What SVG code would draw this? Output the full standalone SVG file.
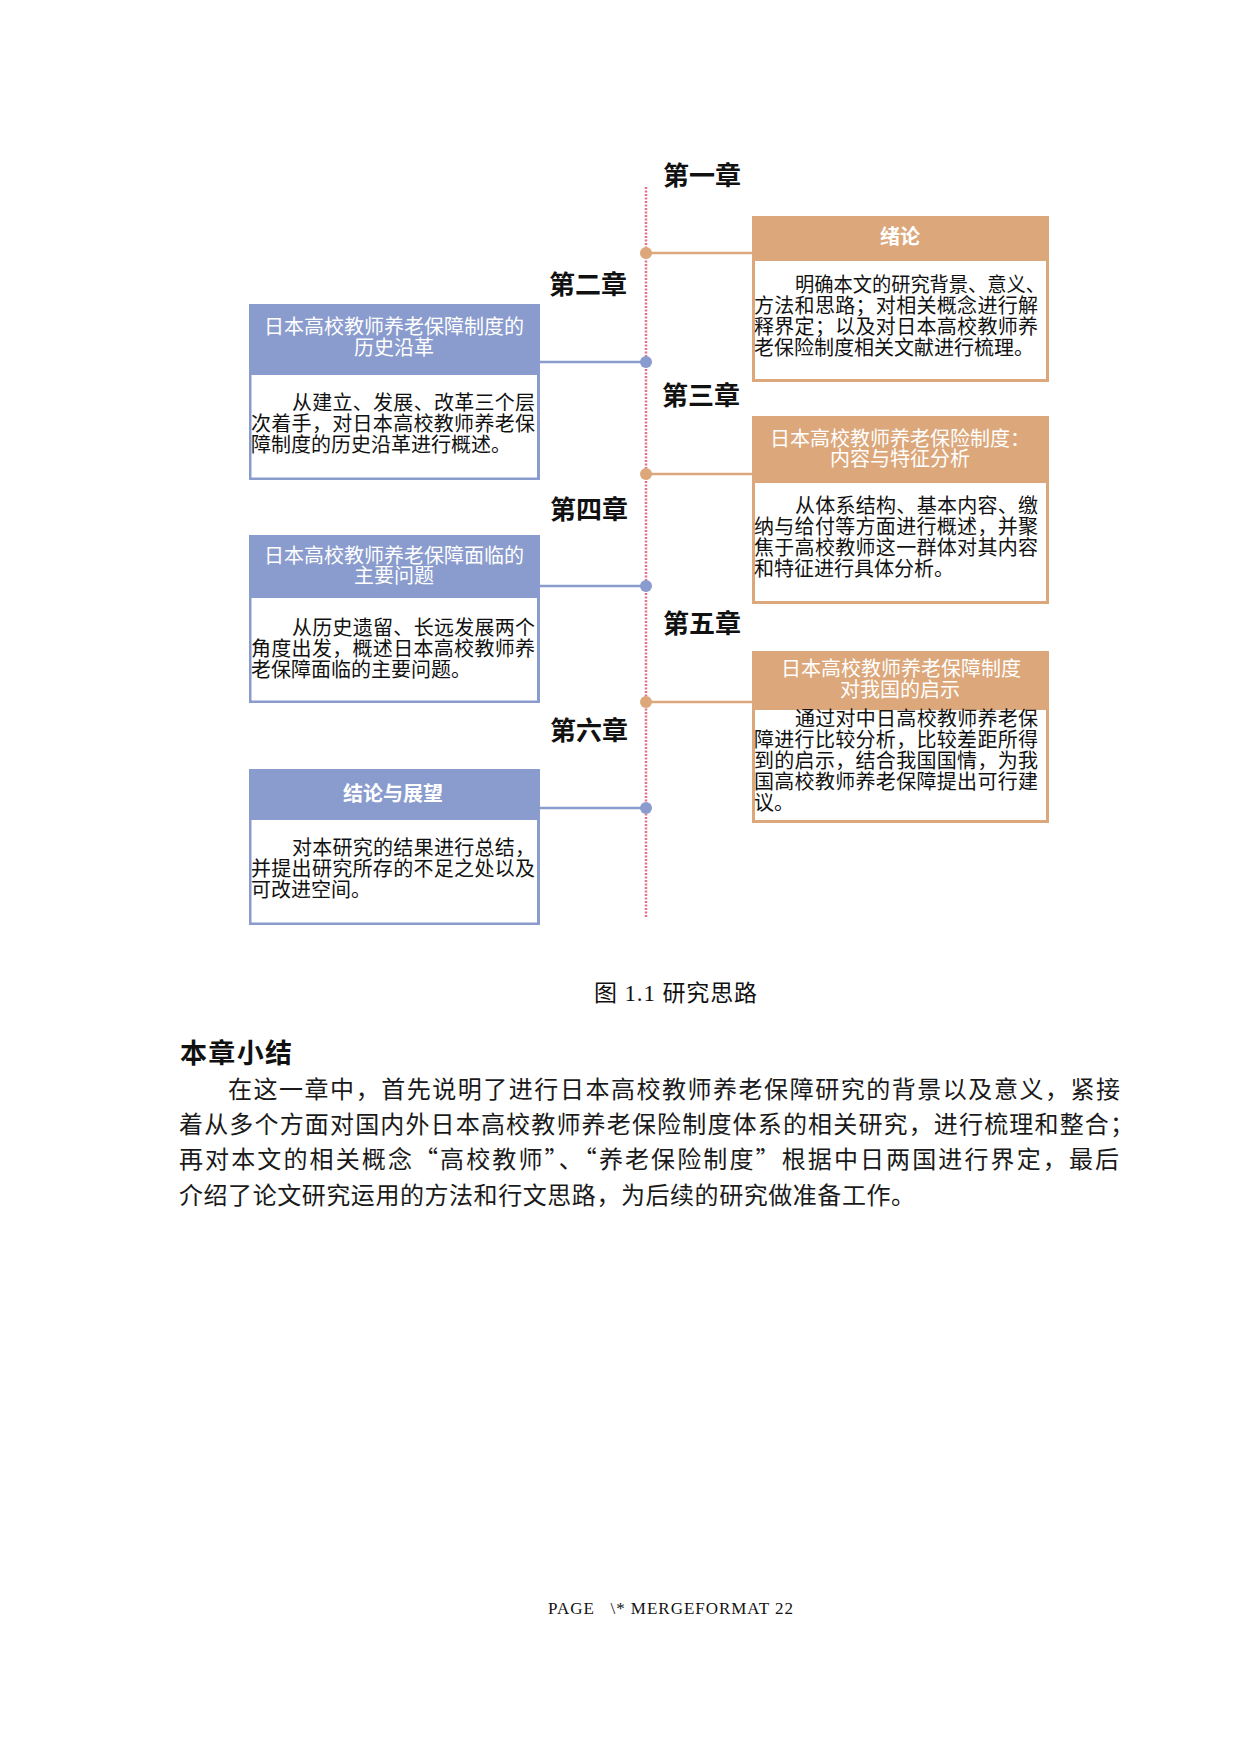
<svg xmlns="http://www.w3.org/2000/svg" width="1240" height="1754" viewBox="0 0 1240 1754">
<style>
.bg{fill:#ffffff}
.blue{fill:#8A9BCD}
.orange{fill:#DCA87B}
.inner{fill:#ffffff}
.title{font-family:"Noto Sans CJK SC","Liberation Serif",sans-serif;font-size:20px;fill:#ffffff;text-anchor:middle}
.body{font-family:"Noto Sans CJK SC","Liberation Serif",sans-serif;font-size:20px;fill:#111111}
.chap{font-family:"Noto Sans CJK SC","Liberation Serif",sans-serif;font-size:26px;font-weight:700;fill:#111111}
.timeline{stroke:#E9708A;stroke-width:2.5;stroke-dasharray:2 1.5;fill:none}
.lb{stroke:#8A9BCD;stroke-width:2.5}
.lo{stroke:#DCA87B;stroke-width:2.5}
.dotb{fill:#8A9BCD}
.doto{fill:#DCA87B}
.caption{font-family:"Liberation Serif","Noto Sans CJK SC",serif;font-size:23px;fill:#111111}
.heading{font-family:"Noto Sans CJK SC",sans-serif;font-size:27px;font-weight:700;fill:#111111}
.para{font-family:"Noto Sans CJK SC",sans-serif;font-size:24px;fill:#1a1a1a}
.footer{font-family:"Liberation Serif",serif;font-size:17px;fill:#111111}
</style>
<rect class="bg" x="0" y="0" width="1240" height="1754"/>

<g id="connectors">
  <line class="timeline" x1="646" y1="187" x2="646" y2="918"/>
  <line class="lo" x1="646" y1="253" x2="752" y2="253"/>
  <line class="lb" x1="540" y1="362" x2="646" y2="362"/>
  <line class="lo" x1="646" y1="474" x2="752" y2="474"/>
  <line class="lb" x1="540" y1="586" x2="646" y2="586"/>
  <line class="lo" x1="646" y1="702" x2="752" y2="702"/>
  <line class="lb" x1="540" y1="808" x2="646" y2="808"/>
  <circle class="doto" cx="646" cy="253" r="6"/>
  <circle class="dotb" cx="646" cy="362" r="6"/>
  <circle class="doto" cx="646" cy="474" r="6"/>
  <circle class="dotb" cx="646" cy="586" r="6"/>
  <circle class="doto" cx="646" cy="702" r="6"/>
  <circle class="dotb" cx="646" cy="808" r="6"/>
</g>

<g id="chapter-labels">
  <text class="chap" x="663" y="185">第一章</text>
  <text class="chap" x="549" y="294">第二章</text>
  <text class="chap" x="662" y="405">第三章</text>
  <text class="chap" x="550" y="519">第四章</text>
  <text class="chap" x="663" y="633">第五章</text>
  <text class="chap" x="550" y="740">第六章</text>
</g>

<g id="node-ch1">
  <rect class="orange" x="752" y="216" width="297" height="166"/>
  <rect class="inner" x="755" y="261" width="291" height="118"/>
  <text class="title" x="900" y="244" font-weight="700">绪论</text>
  <text class="body" x="795" y="292" textLength="250" lengthAdjust="spacingAndGlyphs">明确本文的研究背景、意义、</text>
  <text class="body" x="754" y="313" textLength="284" lengthAdjust="spacing">方法和思路；对相关概念进行解</text>
  <text class="body" x="754" y="334" textLength="284" lengthAdjust="spacing">释界定；以及对日本高校教师养</text>
  <text class="body" x="754" y="355">老保险制度相关文献进行梳理。</text>
</g>

<g id="node-ch2">
  <rect class="blue" x="249" y="304" width="291" height="176"/>
  <rect class="inner" x="251.5" y="375" width="285.5" height="102.5"/>
  <text class="title" x="394" y="334">日本高校教师养老保障制度的</text>
  <text class="title" x="394" y="355">历史沿革</text>
  <text class="body" x="292" y="410" textLength="243" lengthAdjust="spacing">从建立、发展、改革三个层</text>
  <text class="body" x="251" y="431" textLength="284" lengthAdjust="spacing">次着手，对日本高校教师养老保</text>
  <text class="body" x="251" y="452">障制度的历史沿革进行概述。</text>
</g>

<g id="node-ch3">
  <rect class="orange" x="752" y="416" width="297" height="188"/>
  <rect class="inner" x="755" y="483" width="291" height="118"/>
  <text class="title" x="900" y="446">日本高校教师养老保险制度：</text>
  <text class="title" x="900" y="466">内容与特征分析</text>
  <text class="body" x="795" y="513" textLength="243" lengthAdjust="spacing">从体系结构、基本内容、缴</text>
  <text class="body" x="754" y="534" textLength="284" lengthAdjust="spacing">纳与给付等方面进行概述，并聚</text>
  <text class="body" x="754" y="555" textLength="284" lengthAdjust="spacing">焦于高校教师这一群体对其内容</text>
  <text class="body" x="754" y="576">和特征进行具体分析。</text>
</g>

<g id="node-ch4">
  <rect class="blue" x="249" y="535" width="291" height="168"/>
  <rect class="inner" x="251.5" y="598" width="285.5" height="102.5"/>
  <text class="title" x="394" y="563">日本高校教师养老保障面临的</text>
  <text class="title" x="394" y="583">主要问题</text>
  <text class="body" x="292" y="635" textLength="243" lengthAdjust="spacing">从历史遗留、长远发展两个</text>
  <text class="body" x="251" y="656" textLength="284" lengthAdjust="spacing">角度出发，概述日本高校教师养</text>
  <text class="body" x="251" y="677">老保障面临的主要问题。</text>
</g>

<g id="node-ch5">
  <rect class="orange" x="752" y="651" width="297" height="172"/>
  <rect class="inner" x="755" y="710" width="291" height="110"/>
  <text class="title" x="901" y="676">日本高校教师养老保障制度</text>
  <text class="title" x="900" y="697">对我国的启示</text>
  <text class="body" x="795" y="726" textLength="243" lengthAdjust="spacing">通过对中日高校教师养老保</text>
  <text class="body" x="754" y="747" textLength="284" lengthAdjust="spacing">障进行比较分析，比较差距所得</text>
  <text class="body" x="754" y="768" textLength="284" lengthAdjust="spacing">到的启示，结合我国国情，为我</text>
  <text class="body" x="754" y="789" textLength="284" lengthAdjust="spacing">国高校教师养老保障提出可行建</text>
  <text class="body" x="754" y="810">议。</text>
</g>

<g id="node-ch6">
  <rect class="blue" x="249" y="769" width="291" height="156"/>
  <rect class="inner" x="251.5" y="820" width="285.5" height="102.5"/>
  <text class="title" x="393" y="801" font-weight="700">结论与展望</text>
  <text class="body" x="292" y="855" textLength="243" lengthAdjust="spacing">对本研究的结果进行总结，</text>
  <text class="body" x="251" y="876" textLength="284" lengthAdjust="spacing">并提出研究所存的不足之处以及</text>
  <text class="body" x="251" y="897">可改进空间。</text>
</g>

<g id="caption">
  <text class="caption" x="594" y="1001" textLength="163" lengthAdjust="spacing">图 1.1 研究思路</text>
</g>

<g id="summary">
  <text class="heading" x="180" y="1063" textLength="112" lengthAdjust="spacing">本章小结</text>
  <text class="para" x="228" y="1098" textLength="892" lengthAdjust="spacing">在这一章中，首先说明了进行日本高校教师养老保障研究的背景以及意义，紧接</text>
  <text class="para" x="179" y="1133" textLength="955" lengthAdjust="spacing">着从多个方面对国内外日本高校教师养老保险制度体系的相关研究，进行梳理和整合；</text>
  <text class="para" x="179" y="1168" textLength="940" lengthAdjust="spacing">再对本文的相关概念“高校教师”、“养老保险制度”根据中日两国进行界定，最后</text>
  <text class="para" x="179" y="1204" textLength="736" lengthAdjust="spacing">介绍了论文研究运用的方法和行文思路，为后续的研究做准备工作。</text>
</g>

<g id="footer">
  <text class="footer" x="548" y="1614" xml:space="preserve" textLength="245" lengthAdjust="spacing">PAGE   \* MERGEFORMAT 22</text>
</g>
</svg>
